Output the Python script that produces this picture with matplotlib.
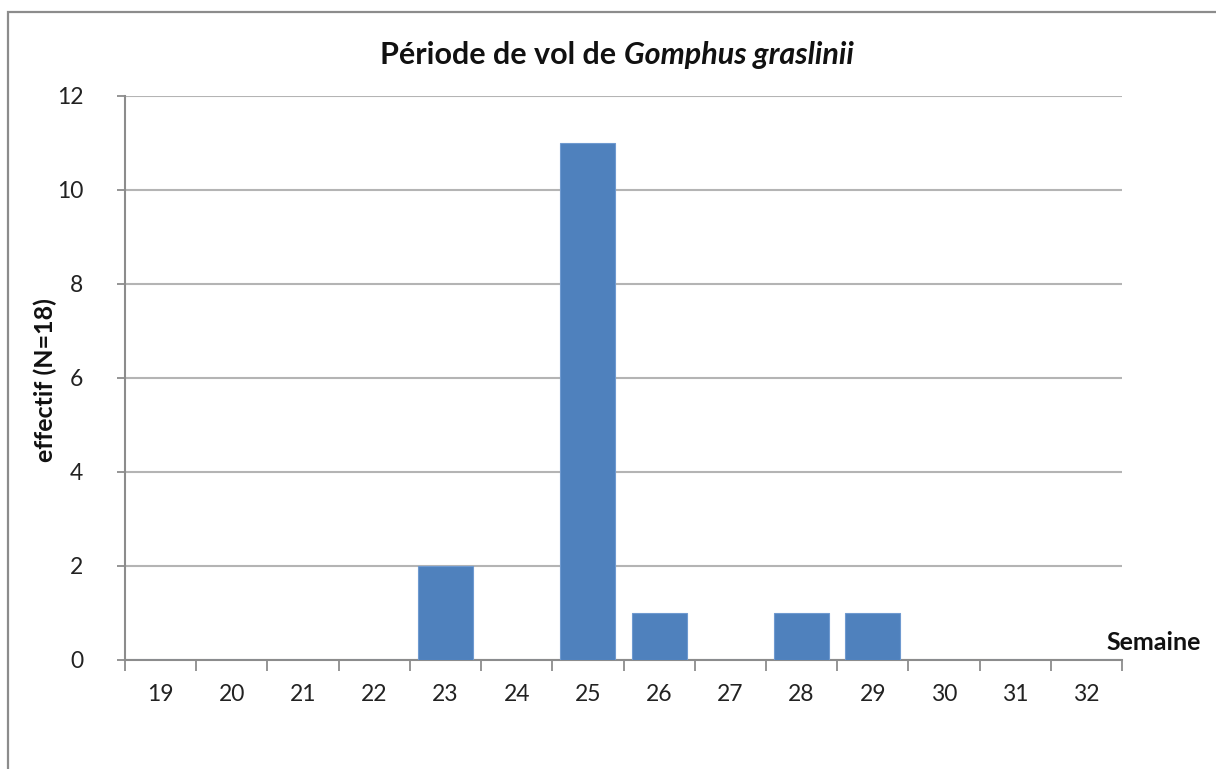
import matplotlib
matplotlib.use("Agg")
import matplotlib.pyplot as plt
from matplotlib.patches import Rectangle

# weekly counts of Gomphus graslinii
semaines = [19, 20, 21, 22, 23, 24, 25, 26, 27, 28, 29, 30, 31, 32]
effectifs = [0, 0, 0, 0, 2, 0, 11, 1, 0, 1, 1, 0, 0, 0]
y_ticks = [0, 2, 4, 6, 8, 10, 12]

plt.rcParams['font.family'] = ['Lato', 'DejaVu Sans']

W, H = 1216, 769
fig = plt.figure(figsize=(W / 100, H / 100), dpi=100)

# outer chart border (left and top visible, rest cropped)
fig.patches.append(Rectangle((8 / W, -0.1), 1.2, (H - 12) / H + 0.1,
                             transform=fig.transFigure, fill=False,
                             edgecolor='#8c8c8c', linewidth=1.6))

ax = fig.add_axes([125 / W, 1 - 660 / H, (1122 - 125) / W, (660 - 96) / H])

x = list(range(len(semaines)))
ax.bar(x, effectifs, width=0.77, color='#4f81bd', edgecolor='#6f9ad0',
       linewidth=0.8, zorder=3)

ax.set_xlim(-0.5, len(semaines) - 0.5)
ax.set_ylim(0, 12)
ax.set_yticks(y_ticks)
ax.set_yticklabels([str(v) for v in y_ticks])
ax.yaxis.grid(True, color='#b4b4b4', linewidth=1.5)
ax.set_axisbelow(True)

# category labels centered, tick marks on boundaries
ax.set_xticks(x)
ax.set_xticklabels([str(s) for s in semaines])
ax.tick_params(axis='x', length=0, pad=17, labelsize=16.5, labelcolor='#222222')
ax.set_xticks([i - 0.5 for i in range(len(semaines) + 1)], minor=True)
ax.tick_params(axis='x', which='minor', length=8, width=1.3, color='#8c8c8c')
ax.tick_params(axis='y', length=6, width=1.3, color='#8c8c8c', pad=24,
               labelsize=16.5, labelcolor='#222222')

for side in ['top', 'right']:
    ax.spines[side].set_visible(False)
for side in ['left', 'bottom']:
    ax.spines[side].set_color('#8c8c8c')
    ax.spines[side].set_linewidth(1.5)

fig.text(45 / W, 1 - 380 / H, 'effectif (N=18)', rotation=90, ha='center',
         va='center', fontsize=18, fontweight='bold', color='#111111')
fig.text(1106 / W, 1 - 643 / H, 'Semaine', ha='left', va='center',
         fontsize=18, fontweight='bold', color='#111111')

# title: normal part + italic species name, centered together
ty = 1 - 55 / H
t1 = fig.text(0, ty, 'Période de vol de ', ha='left', va='center',
              fontsize=22, fontweight='bold', color='#111111')
t2 = fig.text(0, ty, 'Gomphus graslinii', ha='left', va='center',
              fontsize=22, fontweight='bold', style='italic', color='#111111')
r = fig.canvas.get_renderer()
w1 = t1.get_window_extent(r).width / W
w2 = t2.get_window_extent(r).width / W
x0 = 617 / W - (w1 + w2) / 2
t1.set_x(x0)
t2.set_x(x0 + w1)

fig.savefig('out.png', dpi=100)
